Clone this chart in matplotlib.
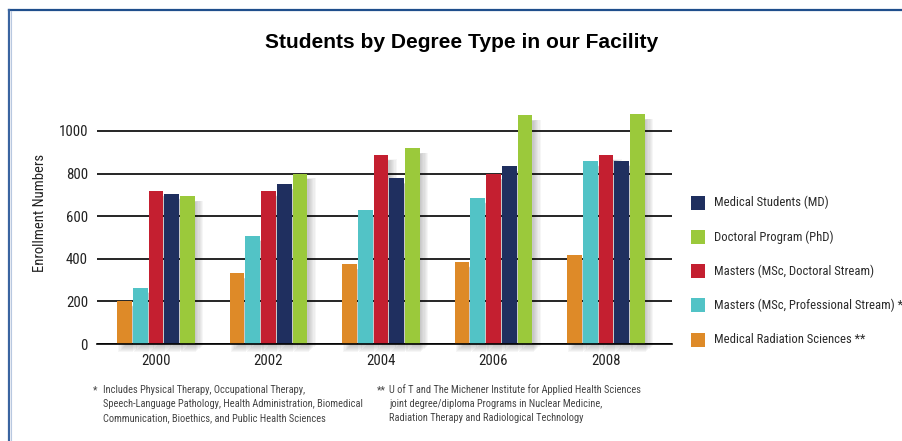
import matplotlib
matplotlib.use('Agg')
import matplotlib.pyplot as plt
from matplotlib import font_manager
from matplotlib.patches import Rectangle
from matplotlib.lines import Line2D
import numpy as np

# ---------------- data ----------------
years = ['2000', '2002', '2004', '2006', '2008']
series_names = ['Medical Radiation Sciences **',
                'Masters (MSc, Professional Stream) *',
                'Masters (MSc, Doctoral Stream)',
                'Medical Students (MD)',
                'Doctoral Program (PhD)']
mrs = [203, 333, 376, 386, 419]
msc_prof = [265, 509, 630, 686, 860]
msc_doc = [719, 719, 888, 798, 888]
md = [705, 751, 778, 836, 861]
phd = [695, 800, 920, 1075, 1080]
series_values = [mrs, msc_prof, msc_doc, md, phd]
colors = ['#DE8A28', '#52C3C6', '#C41F30', '#1F2F5F', '#9BC93B']
yticks = [0, 200, 400, 600, 800, 1000]
legend_order = [3, 4, 2, 1, 0]
title = 'Students by Degree Type in our Facility'
ylabel = 'Enrollment Numbers'
foot1 = ['Includes Physical Therapy, Occupational Therapy,',
         'Speech-Language Pathology, Health Administration, Biomedical',
         'Communication, Bioethics, and Public Health Sciences']
foot2 = ['U of T and The Michener Institute for Applied Health Sciences',
         'joint degree/diploma Programs in Nuclear Medicine,',
         'Radiation Therapy and Radiological Technology']

# ---------------- fonts ----------------
names = {f.name for f in font_manager.fontManager.ttflist}
NARROW = 'Liberation Sans'
for cand in ['Liberation Sans Narrow', 'Arial Narrow', 'Roboto Condensed',
             'Archivo Narrow', 'PT Sans Narrow', 'Open Sans Condensed',
             'Pragati Narrow']:
    if cand in names:
        NARROW = cand
        break
BOLD = 'Liberation Sans' if 'Liberation Sans' in names else 'DejaVu Sans'

W, H = 903, 441
fig = plt.figure(figsize=(W / 100, H / 100), dpi=100)
fig.patch.set_facecolor('white')
fig.canvas.draw()
renderer = fig.canvas.get_renderer()


def fitted_size(s, target, **kw):
    t = fig.text(0, 0, s, fontsize=10, **kw)
    w = t.get_window_extent(renderer).width
    t.remove()
    return 10 * target / w


def fx(px):
    return px / W


def fy(py):
    return 1 - py / H


# axes: x from 97 to 672 px, y=0 at 344 px, 1000 at 131 px
ymax = 1100
px_per_unit = (344 - 131) / 1000
top_px = 344 - ymax * px_per_unit
ax = fig.add_axes([fx(97), fy(344), fx(672) - fx(97), fy(top_px) - fy(344)])

group_px = 112.5
x = np.arange(len(years))
xl = (97 - 156) / group_px
xr = (672 - 156) / group_px
ax.set_xlim(xl, xr)
ax.set_ylim(0, ymax)

pitch = 15.75 / group_px
bw = 14.8 / group_px
dxpx = 1 / group_px
dypx = 1 / px_per_unit

for i, (vals, col) in enumerate(zip(series_values, colors)):
    pos = x + (i - 2) * pitch
    v = np.array(vals, dtype=float)
    # soft drop shadow
    for k in range(1, 8):
        ax.bar(pos + k * 1.2 * dxpx, v + 3 * dypx - k * 0.8 * dypx, bw,
               bottom=-(9 - k) * dypx,
               color='#606060', alpha=0.055, linewidth=0, zorder=0.2,
               clip_on=False)
    ax.bar(pos, v, bw, color=col, linewidth=0, zorder=3)

ax.set_yticks(yticks)
ax.set_xticks(x)
ax.set_xticklabels(years)
ax.yaxis.grid(True, color='black', linewidth=1.2)
ax.set_axisbelow(True)
for s in ['left', 'right', 'top']:
    ax.spines[s].set_visible(False)
ax.spines['bottom'].set_color('black')
ax.spines['bottom'].set_linewidth(1.2)
ax.spines['bottom'].set_zorder(4)
ax.tick_params(length=0)
ax.set_facecolor('none')

tick_fs = fitted_size('1000', 29, family=NARROW)
ax.tick_params(axis='y', pad=6.5, labelsize=tick_fs)
ax.tick_params(axis='x', pad=7.5, labelsize=tick_fs)
for lab in ax.get_xticklabels() + ax.get_yticklabels():
    lab.set_family(NARROW)
    lab.set_color('#222222')

ylab_fs = fitted_size(ylabel, 117, family=NARROW)
fig.text(fx(40), fy(213), ylabel, rotation=90, ha='center', va='center',
         fontsize=ylab_fs, family=NARROW, color='#222222')

# title
title_fs = fitted_size(title, 395, family=BOLD, weight='bold')
fig.text(fx(462), fy(43), title, ha='center', va='center', fontsize=title_fs,
         family=BOLD, weight='bold', color='black')

# legend
leg_fs = fitted_size(series_names[1], 187, family=NARROW)
leg_y = [202.7, 237, 271, 305, 339.7]
for row, idx in enumerate(legend_order):
    cy = leg_y[row]
    fig.patches.append(Rectangle((fx(691), fy(cy + 7)), fx(14), 14 / H,
                                 transform=fig.transFigure, color=colors[idx],
                                 linewidth=0))
    fig.text(fx(714), fy(cy), series_names[idx], ha='left', va='center',
             fontsize=leg_fs, family=NARROW, color='#2a2a2a')

# footnotes
foot_fs = fitted_size(foot1[1], 259, family=NARROW)
line_y = [390, 404, 418]
fig.text(fx(93), fy(line_y[0]), '*', ha='left', va='center', fontsize=foot_fs,
         family=NARROW, color='#444444')
fig.text(fx(377), fy(line_y[0]), '**', ha='left', va='center', fontsize=foot_fs,
         family=NARROW, color='#444444')
for ly, t1, t2 in zip(line_y, foot1, foot2):
    fig.text(fx(103), fy(ly), t1, ha='left', va='center', fontsize=foot_fs,
             family=NARROW, color='#444444')
    fig.text(fx(389), fy(ly), t2, ha='left', va='center', fontsize=foot_fs,
             family=NARROW, color='#444444')

# frame lines (top and left)
fig.add_artist(Line2D([fx(9), 1], [fy(10), fy(10)], transform=fig.transFigure,
                      color='#1F4E8C', linewidth=1.6))
fig.add_artist(Line2D([fx(9.5), fx(9.5)], [fy(10), 0], transform=fig.transFigure,
                      color='#3A64A0', linewidth=1.6))
fig.add_artist(Line2D([fx(11), fx(11)], [fy(11), 0], transform=fig.transFigure,
                      color='#B8C8E0', linewidth=0.8))

fig.savefig('out.png', dpi=100, facecolor='white')
